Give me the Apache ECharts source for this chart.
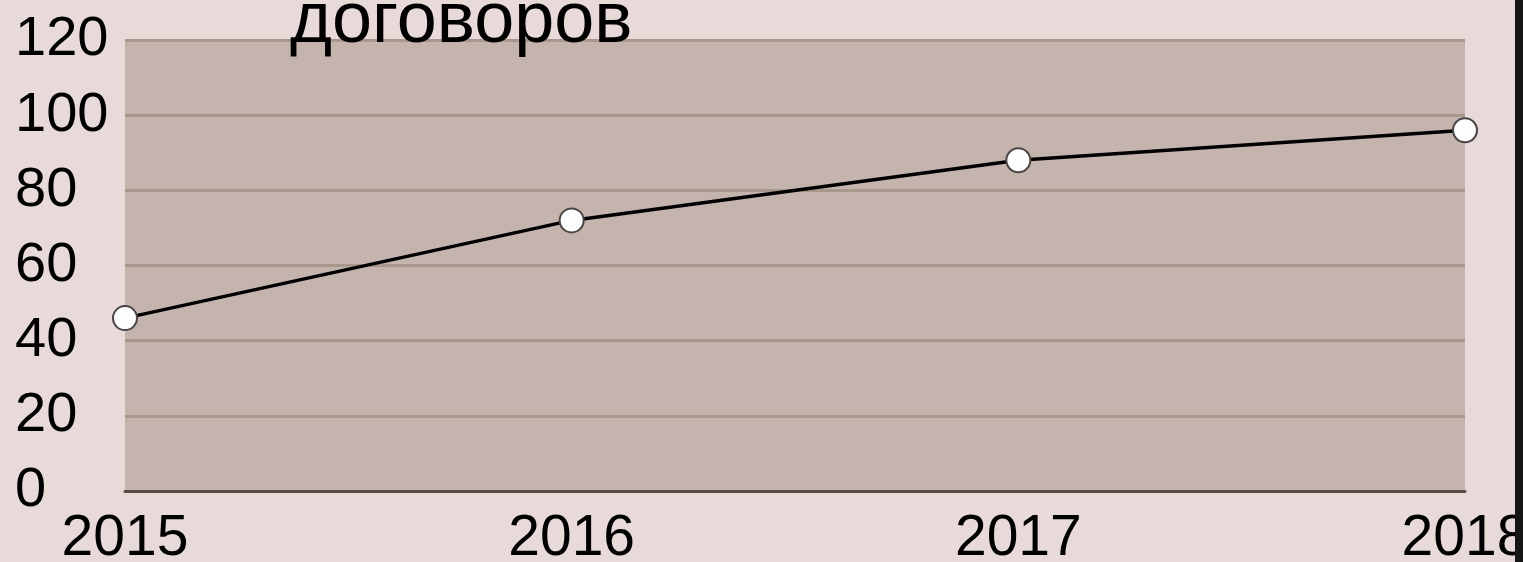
<!DOCTYPE html>
<html><head><meta charset="utf-8">
<script src="https://cdn.jsdelivr.net/npm/echarts@6/dist/echarts.min.js"></script>
<style>html,body{margin:0;padding:0;background:#e9dada;}#c{width:1523px;height:562px;}</style>
</head><body><div id="c"></div>
<script>
const years = ['2015', '2016', '2017', '2018'];
const contracts = [46, 72, 88, 96];
const titleText = 'договоров';

const chart = echarts.init(document.getElementById('c'), null, {renderer: 'canvas'});
chart.setOption({
  backgroundColor: '#e9dada',
  animation: false,
  textStyle: {fontFamily: 'Liberation Sans'},
  graphic: [
    {type: 'text', left: 290, top: -14, z: 100,
     style: {text: titleText, font: '72px "Liberation Sans"', fill: '#000'}},
    {type: 'rect', shape: {x: 1515, y: 0, width: 8, height: 562}, style: {fill: '#151515'}, z: 100}
  ],
  grid: {left: 125, right: 58, top: 40, bottom: 71, show: true, backgroundColor: '#c5b4ad', borderWidth: 0,
         containLabel: false, outerBoundsMode: 'none'},
  xAxis: {
    type: 'category', data: years, boundaryGap: false,
    axisLine: {show: true, lineStyle: {color: '#5a4a44', width: 3}},
    axisTick: {show: false},
    axisLabel: {fontSize: 57, color: '#000', margin: 20, fontFamily: 'Liberation Sans'},
    splitLine: {show: false}
  },
  yAxis: {
    type: 'value', min: 0, max: 120, interval: 20,
    axisLine: {show: false}, axisTick: {show: false},
    axisLabel: {fontSize: 56, color: '#000', align: 'left', margin: 110, fontFamily: 'Liberation Sans'},
    splitLine: {show: true, lineStyle: {color: '#a8988c', width: 3}}
  },
  series: [{
    type: 'line', data: contracts,
    lineStyle: {color: '#000', width: 3.5},
    symbol: 'circle', symbolSize: 24,
    itemStyle: {color: '#fdfdfd', borderColor: '#4a4444', borderWidth: 2},
    z: 5
  }]
});
</script></body></html>
